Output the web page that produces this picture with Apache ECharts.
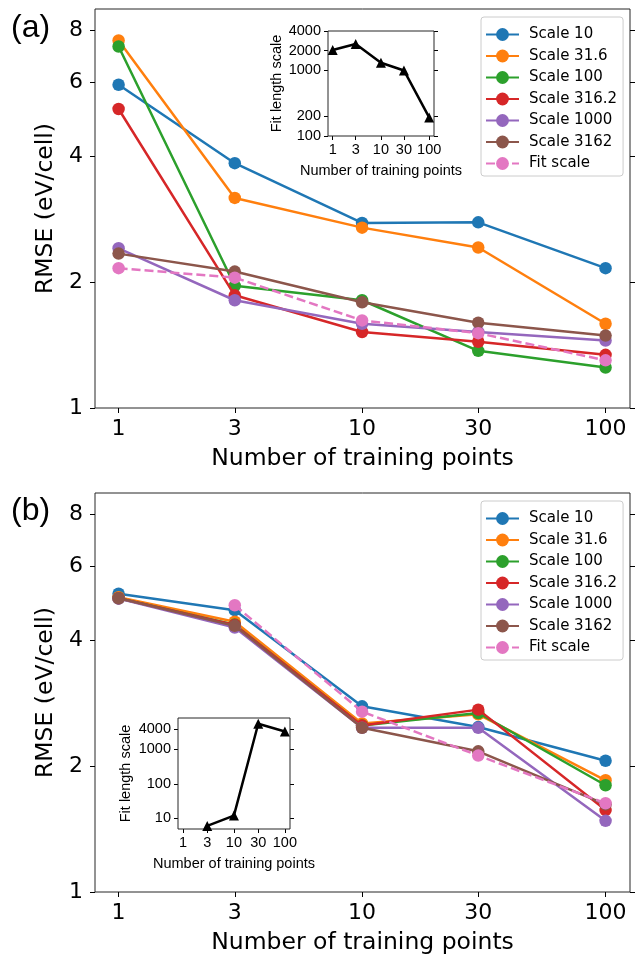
<!DOCTYPE html>
<html><head><meta charset="utf-8">
<script src="https://cdn.jsdelivr.net/npm/echarts@6/dist/echarts.min.js"></script>
<style>html,body{margin:0;padding:0;background:#fff}#c{width:639px;height:956px}</style>
</head><body><div id="c"></div>
<script>
// ---- data ----
const trainingPoints = [1, 3, 10, 30, 100];
const seriesNames = ['Scale 10', 'Scale 31.6', 'Scale 100', 'Scale 316.2', 'Scale 1000', 'Scale 3162', 'Fit scale'];

// panel (a)
const a_scale10   = [5.93, 3.85, 2.77, 2.78, 2.16];
const a_scale31   = [7.57, 3.18, 2.70, 2.42, 1.59];
const a_scale100  = [7.32, 1.96, 1.81, 1.37, 1.25];
const a_scale316  = [5.19, 1.86, 1.52, 1.44, 1.34];
const a_scale1000 = [2.41, 1.81, 1.59, 1.52, 1.45];
const a_scale3162 = [2.34, 2.12, 1.79, 1.60, 1.49];
const a_fit       = [2.16, 2.05, 1.62, 1.51, 1.30];

// panel (b)
const b_scale10   = [5.17, 4.72, 2.78, 2.48, 2.06];
const b_scale31   = [5.07, 4.43, 2.53, 2.66, 1.85];
const b_scale100  = [5.04, 4.36, 2.50, 2.68, 1.80];
const b_scale316  = [5.04, 4.35, 2.50, 2.73, 1.57];
const b_scale1000 = [5.03, 4.29, 2.47, 2.47, 1.48];
const b_scale3162 = [5.04, 4.33, 2.47, 2.17, 1.62];
const b_fit       = [null, 4.85, 2.70, 2.12, 1.63];

// insets: fit length scale
const insetA_fit = [2050, 2540, 1310, 1000, 192];
const insetB_fit = [null, 6, 12, 5600, 3350];

// tick labels
const xTicks = [1, 3, 10, 30, 100];
const yTicksMain = [1, 2, 4, 6, 8];
const yTicksInsetA = [100, 200, 1000, 2000, 4000];
const yTicksInsetB = [10, 100, 1000, 4000];

const colors = ['#1f77b4', '#ff7f0e', '#2ca02c', '#d62728', '#9467bd', '#8c564b', '#e377c2'];

// ---- build ----
const panelA = [a_scale10, a_scale31, a_scale100, a_scale316, a_scale1000, a_scale3162, a_fit];
const panelB = [b_scale10, b_scale31, b_scale100, b_scale316, b_scale1000, b_scale3162, b_fit];

const MAIN_FONT = 'DejaVu Sans';
const INSET_FONT = 'Liberation Sans';
const fmt = v => String(Math.round(v));

function toPairs(vals) {
  const out = [];
  trainingPoints.forEach((x, i) => { if (vals[i] != null) out.push([x, vals[i]]); });
  return out;
}

function xAxisCfg(gi, main) {
  return {
    type: 'log', logBase: 10, gridIndex: gi, min: 0.8, max: 126,
    name: 'Number of training points',
    nameLocation: 'middle', nameGap: main ? 39 : 27,
    nameTextStyle: { fontSize: main ? 23.5 : 14.5, fontFamily: main ? MAIN_FONT : INSET_FONT, color: '#000' },
    axisLine: { show: false },
    axisTick: { show: true, customValues: xTicks, length: main ? 5 : 4, lineStyle: { color: '#000', width: 1 } },
    axisLabel: { customValues: xTicks, formatter: fmt, margin: main ? 10 : 6,
      fontSize: main ? 22 : 14.5, fontFamily: main ? MAIN_FONT : INSET_FONT, color: '#000' },
    splitLine: { show: false }, minorTick: { show: false }
  };
}
function yAxisCfg(gi, main, ticks, min, max, right, gap) {
  return {
    type: 'log', logBase: 10, gridIndex: gi, min: min, max: max,
    position: right ? 'right' : 'left',
    name: right ? '' : (main ? 'RMSE (eV/cell)' : 'Fit length scale'),
    nameLocation: 'middle', nameGap: gap,
    nameTextStyle: { fontSize: main ? 23.5 : 14.5, fontFamily: main ? MAIN_FONT : INSET_FONT, color: '#000' },
    axisLine: { show: false },
    axisTick: { show: true, customValues: ticks, length: main ? 5 : 4, lineStyle: { color: '#000', width: 1 } },
    axisLabel: { show: !right, customValues: ticks, formatter: fmt, margin: main ? 12 : 7,
      fontSize: main ? 22 : 14.5, fontFamily: main ? MAIN_FONT : INSET_FONT, color: '#000' },
    splitLine: { show: false }, minorTick: { show: false }
  };
}

const gridStyle = { show: true, borderColor: '#262626', borderWidth: 1, backgroundColor: '#fff' };
const grids = [
  Object.assign({ left: 95, top: 9, width: 535, height: 399, z: 0 }, gridStyle),
  Object.assign({ left: 95, top: 493, width: 535, height: 399, z: 0 }, gridStyle),
  Object.assign({ left: 328, top: 31, width: 106, height: 105, z: 5 }, gridStyle),
  Object.assign({ left: 178, top: 718, width: 112, height: 111, z: 5 }, gridStyle)
];

const xAxes = [xAxisCfg(0, true), xAxisCfg(1, true), xAxisCfg(2, false), xAxisCfg(3, false)];
const yAxes = [
  yAxisCfg(0, true, yTicksMain, 1, 9, false, 28),
  yAxisCfg(0, true, yTicksMain, 1, 9, true, 0),
  yAxisCfg(1, true, yTicksMain, 1, 9, false, 28),
  yAxisCfg(1, true, yTicksMain, 1, 9, true, 0),
  yAxisCfg(2, false, yTicksInsetA, 100, 4000, false, 42),
  yAxisCfg(2, false, yTicksInsetA, 100, 4000, true, 0),
  yAxisCfg(3, false, yTicksInsetB, 4.88, 8230, false, 45),
  yAxisCfg(3, false, yTicksInsetB, 4.88, 8230, true, 0)
];

const series = [];
[panelA, panelB].forEach((panel, p) => {
  panel.forEach((vals, i) => {
    series.push({
      type: 'line', name: seriesNames[i], xAxisIndex: p, yAxisIndex: p * 2,
      data: toPairs(vals), symbol: 'circle', symbolSize: 12.5, showSymbol: true,
      lineStyle: { color: colors[i], width: 2.5, type: i === 6 ? [9, 4] : 'solid' },
      itemStyle: { color: colors[i], borderWidth: 0 },
      emphasis: { disabled: true }, z: 2 + i * 0.01
    });
  });
});
[insetA_fit, insetB_fit].forEach((vals, k) => {
  series.push({
    type: 'line', name: 'inset' + k, xAxisIndex: 2 + k, yAxisIndex: 4 + k * 2,
    data: toPairs(vals), symbol: 'triangle', symbolSize: 10,
    lineStyle: { color: '#000', width: 2.5 }, itemStyle: { color: '#000' },
    emphasis: { disabled: true }, z: 6
  });
});

function legendCfg(top) {
  return {
    data: seriesNames, orient: 'vertical', left: 481, top: top,
    itemWidth: 33, itemHeight: 16, itemGap: 6.5, padding: [10, 6, 5, 4],
    backgroundColor: 'rgba(255,255,255,0.8)', borderColor: '#cccccc', borderWidth: 1, borderRadius: 3,
    textStyle: { fontSize: 15, fontFamily: MAIN_FONT, color: '#000', padding: [0, 0, 0, 5] },
    selectedMode: false, z: 10
  };
}

const chart = echarts.init(document.getElementById('c'), null, { renderer: 'canvas' });
chart.setOption({
  animation: false,
  backgroundColor: '#fff',
  grid: grids,
  xAxis: xAxes,
  yAxis: yAxes,
  series: series,
  legend: [legendCfg(17), legendCfg(501)],
  graphic: [
    { type: 'text', left: 11, top: 12, style: { text: '(a)', font: '32px "Liberation Sans"', fill: '#000' } },
    { type: 'text', left: 11, top: 495, style: { text: '(b)', font: '32px "Liberation Sans"', fill: '#000' } }
  ]
});
</script></body></html>
